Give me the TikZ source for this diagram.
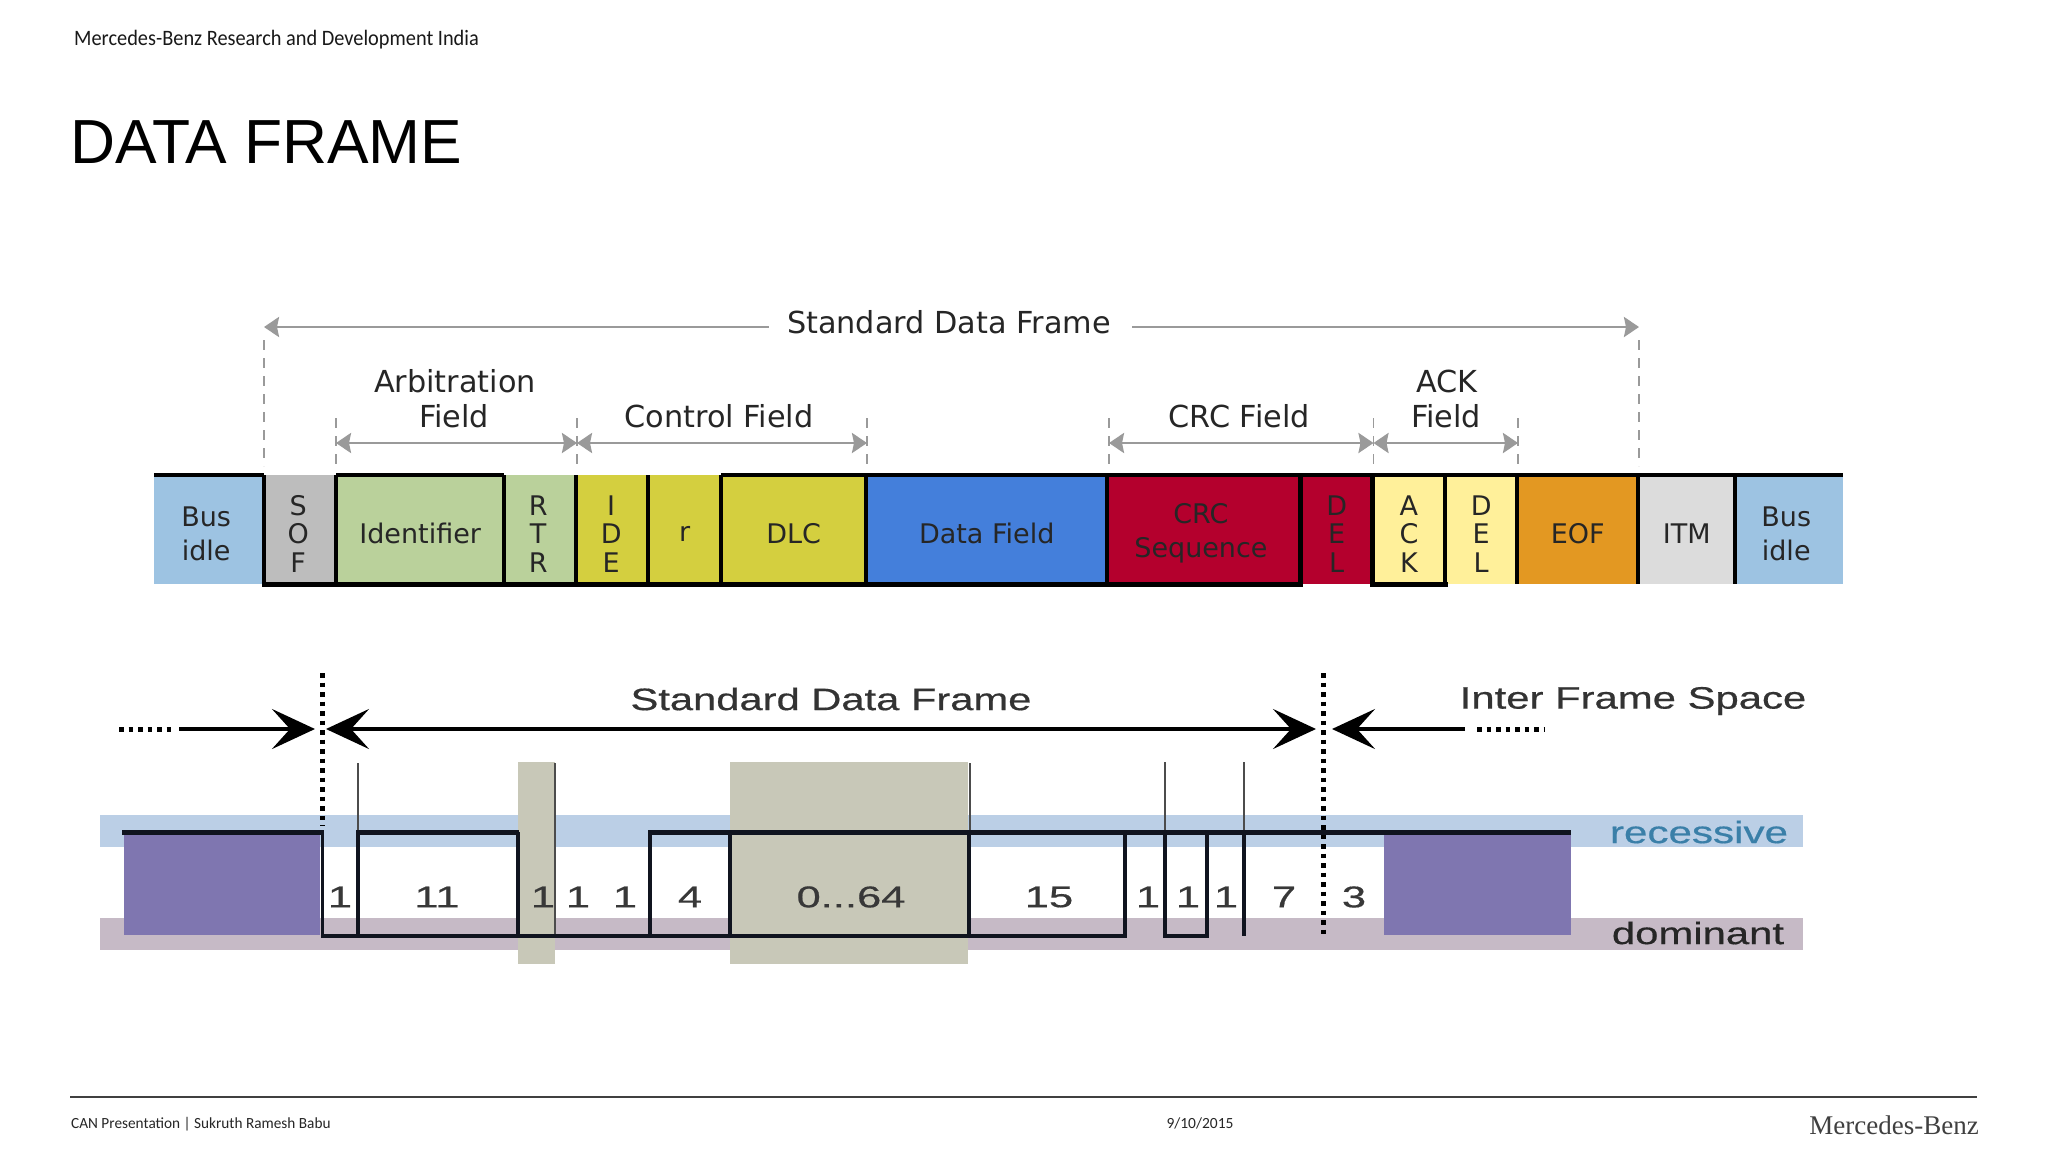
\documentclass[tikz,border=0pt]{standalone}
\usepackage{fontspec}
\usepackage{graphicx}
\setmainfont{DejaVu Sans}
\newfontfamily\lsans{Liberation Sans}
\newfontfamily\lsansb{Liberation Sans}[FakeBold=0.5]
\newfontfamily\lserif{Liberation Serif}
\newfontfamily\carl{Carlito}
\usetikzlibrary{arrows.meta}
\definecolor{busc}{HTML}{9DC3E2}
\definecolor{sofc}{HTML}{BDBDBD}
\definecolor{arbc}{HTML}{BAD19B}
\definecolor{ctlc}{HTML}{D4CF3F}
\definecolor{datc}{HTML}{447FDB}
\definecolor{crcc}{HTML}{B4002D}
\definecolor{ackc}{HTML}{FFF09A}
\definecolor{eofc}{HTML}{E39822}
\definecolor{itmc}{HTML}{DCDCDC}
\definecolor{greyline}{HTML}{9A9A9A}
\definecolor{recc}{HTML}{BBCFE6}
\definecolor{domc}{HTML}{C6BAC6}
\definecolor{stripec}{HTML}{C8C8B8}
\definecolor{purp}{HTML}{7F76B0}
\definecolor{wave}{HTML}{10141F}
\definecolor{recT}{HTML}{3A7FA8}
\newcommand{\wt}[2]{\scalebox{#1}[1]{#2}}
\tikzset{
  cell/.style={anchor=north west,inner sep=0pt,minimum height=109pt},
  ctext/.style={inner sep=0pt,align=center,text=black!85,yshift=-4pt,font=\fontsize{27}{34}\selectfont},
  stext/.style={ctext,font=\fontsize{27}{28.5}\selectfont},
  head/.style={inner sep=0pt,text=black!85,font=\fontsize{30.3}{36}\selectfont},
  span/.style={greyline,line width=2.8pt,{Stealth[length=15pt,width=20pt,inset=2pt]}-{Stealth[length=15pt,width=20pt,inset=2pt]}},
  spanr/.style={greyline,line width=2.8pt,-{Stealth[length=15pt,width=20pt,inset=2pt]}},
  spanl/.style={greyline,line width=2.8pt,{Stealth[length=15pt,width=20pt,inset=2pt]}-},
  gdash/.style={greyline,line width=1.6pt,dash pattern=on 10pt off 8pt},
  bar/.style={black,line width=4.6pt},
  wav/.style={wave,line width=3.8pt,line join=miter},
  wavtop/.style={wave,line width=5pt},
  wthin/.style={black!70,line width=1.6pt},
  big/.style={line width=4pt,black,-{Stealth[length=43pt,width=40pt,inset=18pt]}},
  bigb/.style={line width=4pt,black,{Stealth[length=43pt,width=40pt,inset=18pt]}-{Stealth[length=43pt,width=40pt,inset=18pt]}},
  wdots/.style={black,line width=5pt,dash pattern=on 4.5pt off 5pt},
  wnum/.style={inner sep=0pt,text=black!78,font=\fontsize{30}{32}\lsansb\selectfont},
  wlab/.style={inner sep=0pt,text=black!80,font=\fontsize{31}{34}\lsansb\selectfont},
}
\begin{document}
\begin{tikzpicture}[x=1pt,y=-1pt]
\useasboundingbox (0,0) rectangle (2048,1152);
\fill[white] (0,0) rectangle (2048,1152);

% header and footer
\node[anchor=west,inner sep=0pt,text=black!90] (org) at (74,40) {\wt{0.925}{\fontsize{22}{24}\carl\selectfont Mercedes-Benz Research and Development India}};
\node[anchor=base west,inner sep=0pt,text=black] (title) at (70,163) {\fontsize{62.3}{64}\lsans\selectfont DATA FRAME};
\coordinate (ruleL) at (70,1097);
\coordinate (ruleR) at (1977,1097);
\draw[black!75,line width=1.6pt] (ruleL) -- (ruleR);
\node[anchor=west,inner sep=0pt,text=black!85] (foot) at (71,1124) {\wt{0.985}{\fontsize{15.5}{18}\carl\selectfont CAN Presentation | Sukruth Ramesh Babu}};
\node[inner sep=0pt,text=black!85] (date) at (1200,1123) {\wt{1.0}{\fontsize{15.5}{18}\carl\selectfont 9/10/2015}};
\node[anchor=east,inner sep=0pt,text=black!75] (logo) at (1979,1125) {\wt{1.0}{\fontsize{27}{29}\lserif\selectfont Mercedes-Benz}};

% frame cells
\node[cell,fill=busc,minimum width=110pt,label={[ctext,xshift=-3pt]center:Bus\\idle}] (bus1) at (154,475) {};
\node[cell,fill=sofc,minimum width=72pt,label={[stext,xshift=-2pt]center:S\\O\\F}] (sof) at (264,475) {};
\node[cell,fill=arbc,minimum width=168pt,label={[ctext]center:Identifier}] (id) at (336,475) {};
\node[cell,fill=arbc,minimum width=72pt,label={[stext,xshift=-2pt]center:R\\T\\R}] (rtr) at (504,475) {};
\node[cell,fill=ctlc,minimum width=72pt,label={[stext,xshift=-1pt]center:I\\D\\E}] (ide) at (576,475) {};
\node[cell,fill=ctlc,minimum width=73pt,label={[ctext]center:r}] (r) at (648,475) {};
\node[cell,fill=ctlc,minimum width=145pt,label={[ctext]center:DLC}] (dlc) at (721,475) {};
\node[cell,fill=datc,minimum width=241pt,label={[ctext]center:Data Field}] (data) at (866,475) {};
\node[cell,fill=crcc,minimum width=193.5pt,label={[ctext,xshift=-3pt]center:CRC\\Sequence}] (crc) at (1107,475) {};
\node[cell,fill=crcc,minimum width=72pt,label={[stext]center:D\\E\\L}] (del1) at (1300.5,475) {};
\node[cell,fill=ackc,minimum width=72.5pt,label={[stext]center:A\\C\\K}] (ack) at (1372.5,475) {};
\node[cell,fill=ackc,minimum width=72pt,label={[stext]center:D\\E\\L}] (del2) at (1445,475) {};
\node[cell,fill=eofc,minimum width=121pt,label={[ctext]center:EOF}] (eof) at (1517,475) {};
\node[cell,fill=itmc,minimum width=97pt,label={[ctext]center:ITM}] (itm) at (1638,475) {};
\node[cell,fill=busc,minimum width=108pt,label={[ctext,xshift=-3pt]center:Bus\\idle}] (bus2) at (1735,475) {};

% frame outline
\draw[bar] (bus1.north west) -- (sof.north west);
\draw[bar] (id.north west) -- (id.north east);
\draw[bar] (dlc.north west) -- (bus2.north east);
\draw[bar] ([xshift=-2.3pt]sof.south west) -- ([xshift=2.3pt]del1.south west);
\draw[bar] ([xshift=-2.3pt]ack.south west) -- ([xshift=2.3pt]ack.south east);
\foreach \n in {sof,id,rtr,ide,r,dlc,data,crc,del1,ack,del2,eof,itm,bus2}
  \draw[bar] (\n.north west) -- (\n.south west);

% frame dimension guides
\coordinate (sfL) at (264,327);
\coordinate (sfR) at (1639,327);
\coordinate (sfLb) at (264,466);
\coordinate (sfRb) at (1639,466);
\node[head] (sfl) at (949,322) {Standard Data Frame};
\draw[gdash] ([yshift=-13pt]sfL) -- (sfLb);
\draw[gdash] ([yshift=-13pt]sfR) -- (sfRb);
\draw[spanl] (sfL) -- (769,327);
\draw[spanr] (1132,327) -- (sfR);

\foreach \nm/\xx in {a/336,b/577,c/867,d/1109,e/1373.5,f/1518}{
  \coordinate (g\nm) at (\xx,443);
  \draw[gdash] (\xx,418) -- (\xx,466);
}
\draw[span] (ga) -- (gb);
\draw[span] (gb) -- (gc);
\draw[span] (gd) -- (ge);
\draw[span] (ge) -- (gf);
\node[head] (arb1) at (455,381) {Arbitration};
\node[head] (arb2) at (454,416) {Field};
\node[head] (ctl) at (719,416) {Control Field};
\node[head] (crcf) at (1239,416) {CRC Field};
\node[head] (ack1) at (1447,381) {ACK};
\node[head] (ack2) at (1446,416) {Field};

% timing diagram: bands
\fill[recc] (100,815) rectangle (1803,847);
\fill[domc] (100,918) rectangle (1803,950);
\fill[stripec] (517.7,762) rectangle (555,964);
\fill[stripec] (730,762) rectangle (968,964);
\fill[purp] (124,833) rectangle (320,935);
\fill[purp] (1383.5,833) rectangle (1571,935);

% thin tick lines
\draw[wthin] (358,763) -- (358,832);
\draw[wthin] (555,763) -- (555,936);
\draw[wthin] (970,763) -- (970,832);
\draw[wthin] (1165,762) -- (1165,832);
\draw[wthin] (1244,762) -- (1244,832);

% waveform
\draw[wav] (322.5,832) -- (322.5,936) -- (1125,936) -- (1125,832);
\draw[wav] (358,936) -- (358,832);
\draw[wav] (517.7,832) -- (517.7,936);
\draw[wav] (650,936) -- (650,832);
\draw[wav] (730,832) -- (730,936);
\draw[wav] (968.6,936) -- (968.6,832);
\draw[wav] (1165,832) -- (1165,936) -- (1207,936) -- (1207,832);
\draw[wav] (1244,832) -- (1244,936);
\draw[wavtop] (122,832) -- (324,832);
\draw[wavtop] (356,832) -- (519,832);
\draw[wavtop] (648,832) -- (1571,832);

% boundaries and arrows
\coordinate (dotA) at (322.5,673);
\coordinate (dotAb) at (322.5,826);
\coordinate (dotB) at (1323,673);
\coordinate (dotBb) at (1323,937);
\draw[wdots] (dotA) -- (dotAb);
\draw[wdots] (dotB) -- (dotBb);
\coordinate (idleEnd) at (315,729);
\coordinate (frameL) at (326,729);
\coordinate (frameR) at (1316,729);
\coordinate (ifsL) at (1332,729);
\draw[wdots] (119,729) -- (172,729);
\draw[big] (179,729) -- (idleEnd);
\draw[bigb] (frameL) -- (frameR);
\draw[big] (1465,729) -- (ifsL);
\draw[wdots] (1477,729) -- (1545,729);

% timing labels
\node[wlab] (sdf) at (831,699) {\wt{1.345}{Standard Data Frame}};
\node[wlab] (ifs) at (1633,701) {\wt{1.35}{Inter Frame Space}};
\node[wlab,text=recT] (rec) at (1699,832) {\wt{1.36}{recessive}};
\node[wlab,text=black!85] (dom) at (1698,933) {\wt{1.35}{dominant}};
\foreach \nm/\xx/\vv in {n1/340/1,n2/437/11,n3/543/1,n4/578/1,n5/625/1,n6/690/4,n7/851/{0...64},n8/1049/15,n9/1148/1,n10/1188/1,n11/1226/1,n12/1284/7,n13/1354/3}
  \node[wnum] (\nm) at (\xx,897) {\wt{1.45}{\vv}};
\end{tikzpicture}
\end{document}
